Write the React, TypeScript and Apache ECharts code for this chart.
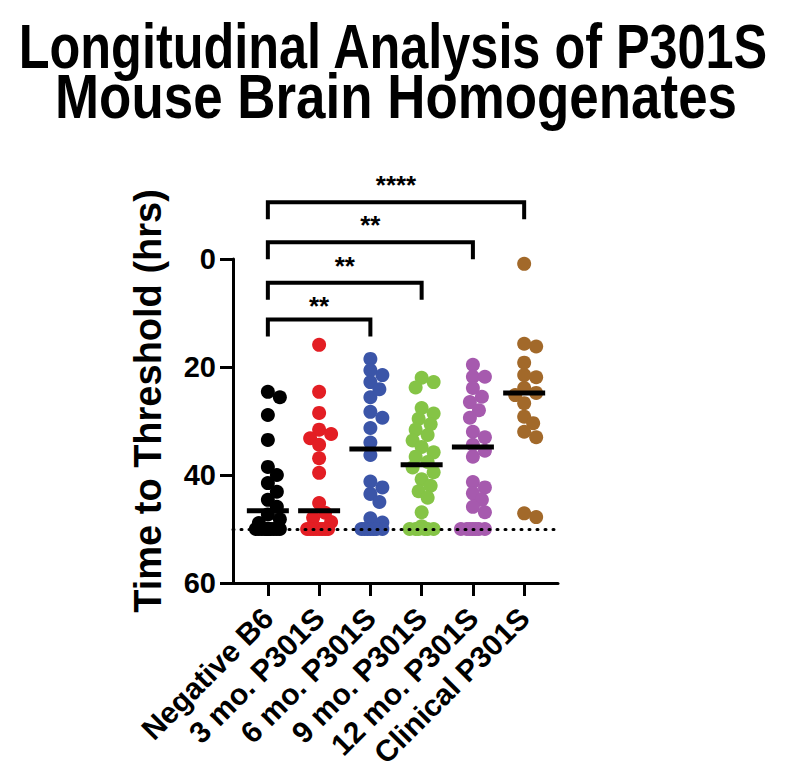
import React, { useEffect, useRef } from "react";
import * as echarts from "echarts";

const categories = [
  "Negative B6",
  "3 mo. P301S",
  "6 mo. P301S",
  "9 mo. P301S",
  "12 mo. P301S",
  "Clinical P301S",
];

const negativeB6 = [24.6, 25.6, 28.9, 33.5, 38.5, 40.0, 41.5, 43.1, 44.6, 45.9, 47.3, 48.2, 48.9, 50, 50, 50, 50, 50, 50, 50, 50, 50, 50, 50];
const mo3P301S = [15.9, 24.6, 28.5, 31.6, 32.4, 33.2, 34.4, 36.9, 39.6, 45.2, 47.0, 47.9, 48.7, 50, 50, 50, 50, 50, 50, 50, 50];
const mo6P301S = [18.5, 20.6, 21.5, 22.8, 24.1, 25.6, 28.3, 29.4, 31.3, 34.0, 36.3, 41.2, 42.3, 43.5, 45.0, 48.0, 48.8, 50, 50, 50, 50, 50, 50, 50];
const mo9P301S = [22.0, 22.8, 23.8, 27.6, 28.6, 29.6, 30.6, 31.6, 32.6, 33.6, 34.8, 35.8, 36.6, 37.6, 38.6, 39.5, 40.8, 42.0, 43.0, 44.2, 46.9, 49.5, 50, 50, 50, 50, 50, 50];
const mo12P301S = [19.6, 21.8, 21.8, 23.9, 25.5, 26.5, 28.0, 29.4, 32.0, 33.0, 34.4, 35.5, 36.6, 41.3, 42.3, 43.4, 44.6, 45.9, 46.9, 50, 50, 50, 50, 50, 50, 50];
const clinicalP301S = [0.9, 15.7, 16.2, 19.2, 21.5, 21.9, 23.9, 24.8, 25.2, 26.7, 29.2, 30.4, 32.0, 33.0, 47.1, 47.8];

const groupMeans = [46.6, 46.6, 35.2, 38.1, 34.8, 24.8];
const thresholdHours = 50;

const bracketStart = [0, 0, 0, 0];
const bracketEnd = [2, 3, 4, 5];
const bracketLevel = [11.2, 4.4, -3.1, -10.5];
const bracketLabels = ["**", "**", "**", "****"];

const yTicks = [0, 20, 40, 60];

const titleLines = ["Longitudinal Analysis of P301S", "Mouse Brain Homogenates"];
const yAxisTitle = "Time to Threshold (hrs)";

const groups = [negativeB6, mo3P301S, mo6P301S, mo9P301S, mo12P301S, clinicalP301S];
const colors = ["#000000", "#E31E24", "#3B55A8", "#85C446", "#A65AAE", "#A2692A"];

const FONT = "Liberation Sans";

// layout constants (pixels)
const GRID_LEFT = 233;
const GRID_TOP = 259;
const GRID_W = 325;
const GRID_H = 324;
const X_MIN = -0.68;
const X_MAX = 5.66;
const PX_PER_X = GRID_W / (X_MAX - X_MIN);
const PX_PER_Y = GRID_H / 60;

function swarm(values: number[]): number[] {
  const D = 11;
  const maxHalf = 12;
  const step = 3;
  const cands: number[] = [0];
  for (let k = step; k <= maxHalf; k += step) cands.push(k, -k);
  const placed: { x: number; y: number }[] = [];
  const order = values.map((v, i) => i).sort((a, b) => values[a] - values[b]);
  const out = new Array(values.length).fill(0);
  for (const i of order) {
    const y = values[i] * PX_PER_Y;
    let chosen: number | null = null;
    let best = cands[0];
    let bestD = -1;
    for (const c of cands) {
      let md = Infinity;
      for (const p of placed) {
        const d = Math.hypot(p.x - c, p.y - y);
        if (d < md) md = d;
      }
      if (md >= D) {
        chosen = c;
        break;
      }
      if (md > bestD + 0.01) {
        bestD = md;
        best = c;
      }
    }
    const x = chosen === null ? best : chosen;
    placed.push({ x, y });
    out[i] = x;
  }
  return out;
}

export default function App() {
  const ref = useRef<HTMLDivElement>(null);
  useEffect(() => {
    document.body.style.margin = "0";
    if (!ref.current) return;
    const chart = echarts.init(ref.current, null, { renderer: "svg" });

    const scatterSeries = groups.map((vals, gi) => {
      const offs = swarm(vals);
      return {
        type: "scatter",
        name: categories[gi],
        symbol: "circle",
        symbolSize: 14,
        itemStyle: { color: colors[gi], opacity: 1 },
        z: 3,
        silent: true,
        data: vals.map((v, i) => [gi + offs[i] / PX_PER_X, v]),
      };
    });

    const option: any = {
      animation: false,
      backgroundColor: "#ffffff",
      graphic: [
        {
          type: "text",
          x: 393,
          y: 46,
          scaleX: 0.8,
          style: {
            text: titleLines[0],
            font: `bold 63px ${FONT}`,
            fill: "#000",
            textAlign: "center",
            textVerticalAlign: "middle",
          },
        },
        {
          type: "text",
          x: 396,
          y: 96,
          scaleX: 0.84,
          style: {
            text: titleLines[1],
            font: `bold 63px ${FONT}`,
            fill: "#000",
            textAlign: "center",
            textVerticalAlign: "middle",
          },
        },
        {
          type: "text",
          x: 148,
          y: 401,
          rotation: Math.PI / 2,
          style: {
            text: yAxisTitle,
            font: `bold 38px ${FONT}`,
            fill: "#000",
            textAlign: "center",
            textVerticalAlign: "middle",
          },
        },
      ],
      grid: {
        left: GRID_LEFT,
        top: GRID_TOP,
        width: GRID_W,
        height: GRID_H,
        containLabel: false,
        outerBoundsMode: "none",
      },
      xAxis: {
        type: "value",
        min: X_MIN,
        max: X_MAX,
        splitLine: { show: false },
        axisLine: { show: true, onZero: false, lineStyle: { color: "#000", width: 3 } },
        axisTick: {
          show: true,
          customValues: categories.map((_, i) => i),
          length: 13,
          lineStyle: { color: "#000", width: 3 },
        },
        axisLabel: {
          show: true,
          customValues: categories.map((_, i) => i),
          formatter: (v: number) => categories[Math.round(v)] ?? "",
          rotate: 45,
          margin: 30,
          fontFamily: FONT,
          fontSize: 30,
          fontWeight: "bold",
          color: "#000",
        },
      },
      yAxis: {
        type: "value",
        inverse: true,
        min: 0,
        max: 60,
        interval: 20,
        splitLine: { show: false },
        axisLine: { show: true, onZero: false, lineStyle: { color: "#000", width: 3 } },
        axisTick: { show: true, length: 13, lineStyle: { color: "#000", width: 3 } },
        axisLabel: {
          show: true,
          margin: 17,
          fontFamily: FONT,
          fontSize: 29,
          fontWeight: "bold",
          color: "#000",
          formatter: (v: number) => (yTicks.includes(v) ? String(v) : ""),
        },
      },
      series: [
        {
          type: "scatter",
          data: [],
          z: 1,
          silent: true,
          markLine: {
            silent: true,
            symbol: ["none", "none"],
            label: { show: false },
            lineStyle: { color: "#000", width: 3, type: [1, 7], cap: "round", opacity: 1 },
            data: [{ yAxis: thresholdHours }],
          },
        },
        ...scatterSeries,
        {
          type: "scatter",
          symbol: "rect",
          symbolSize: [42, 5],
          itemStyle: { color: "#000", opacity: 1 },
          z: 5,
          silent: true,
          data: groupMeans.map((m, i) => [i, m]),
        },
        {
          type: "custom",
          clip: false,
          silent: true,
          z: 6,
          data: bracketStart.map((s, i) => [s, bracketEnd[i], bracketLevel[i], i]),
          renderItem: (params: any, api: any) => {
            const p1 = api.coord([api.value(0), api.value(2)]);
            const p2 = api.coord([api.value(1), api.value(2)]);
            const top = p1[1];
            const leg = 17;
            const idx = api.value(3);
            return {
              type: "group",
              children: [
                {
                  type: "polyline",
                  shape: {
                    points: [
                      [p1[0], top + leg],
                      [p1[0], top],
                      [p2[0], top],
                      [p2[0], top + leg],
                    ],
                  },
                  style: { stroke: "#000", lineWidth: 4, fill: null },
                },
                {
                  type: "text",
                  style: {
                    text: bracketLabels[idx],
                    x: (p1[0] + p2[0]) / 2,
                    y: top - (idx === 0 ? 0 : 4),
                    textAlign: "center",
                    textVerticalAlign: "bottom",
                    font: `bold 26px ${FONT}`,
                    fill: "#000",
                  },
                },
              ],
            };
          },
        },
      ],
    };
    chart.setOption(option);
    return () => chart.dispose();
  }, []);
  return <div ref={ref} style={{ width: 800, height: 777 }} />;
}
